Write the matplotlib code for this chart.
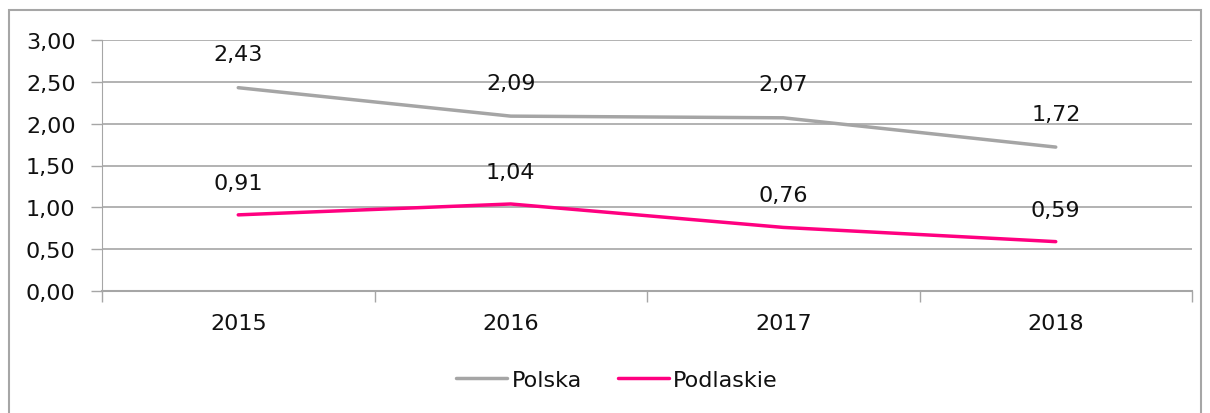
import matplotlib.pyplot as plt
from matplotlib.patches import Rectangle
from matplotlib.ticker import FuncFormatter, FixedLocator

years = ["2015", "2016", "2017", "2018"]
polska = [2.43, 2.09, 2.07, 1.72]
podlaskie = [0.91, 1.04, 0.76, 0.59]

plt.rcParams['font.family'] = ['DejaVu Sans']

fig = plt.figure(figsize=(12.1, 4.14), dpi=100)
ax = fig.add_axes([102/1210, 1-292/414, 1090/1210, 251/414])

# outer chart frame
fig.patches.append(Rectangle((9/1210, -0.05), 1192/1210, 1-11/414+0.05,
                             transform=fig.transFigure, fill=False,
                             edgecolor="#a6a6a6", linewidth=1.5))

x = list(range(len(years)))
ax.plot(x, polska, color="#a5a5a5", linewidth=2.5, label="Polska", solid_capstyle="round")
ax.plot(x, podlaskie, color="#ff0080", linewidth=2.5, label="Podlaskie", solid_capstyle="round")

fmt = lambda v: f"{v:.2f}".replace(".", ",")
for xi, v in zip(x, polska):
    ax.annotate(fmt(v), (xi, v), xytext=(0, 24), textcoords="offset points",
                ha="center", va="center", fontsize=16, color="#111111")
for xi, v in zip(x, podlaskie):
    ax.annotate(fmt(v), (xi, v), xytext=(0, 23), textcoords="offset points",
                ha="center", va="center", fontsize=16, color="#111111")

ax.set_xlim(-0.5, 3.5)
ax.set_ylim(0, 3)
ax.set_yticks([0, 0.5, 1, 1.5, 2, 2.5, 3])
ax.yaxis.set_major_formatter(FuncFormatter(lambda v, p: fmt(v)))
ax.set_xticks(x)
ax.set_xticklabels(years)
ax.xaxis.set_minor_locator(FixedLocator([-0.5, 0.5, 1.5, 2.5, 3.5]))
ax.tick_params(axis="x", which="major", length=0, pad=16, labelsize=16, labelcolor="#111111")
ax.tick_params(axis="x", which="minor", length=8, color="#a6a6a6", width=1)
ax.tick_params(axis="y", length=8, color="#a6a6a6", width=1, labelsize=16, pad=11,
               labelcolor="#111111")
ax.grid(axis="y", color="#a6a6a6", linewidth=1.2)
ax.set_axisbelow(True)
for s in ["top", "right"]:
    ax.spines[s].set_visible(False)
ax.spines["left"].set_color("#a6a6a6")
ax.spines["bottom"].set_color("#a6a6a6")
ax.spines["bottom"].set_linewidth(1.5)

leg = fig.legend(loc="center", bbox_to_anchor=(617/1210, 1-381/414), ncol=2,
                 frameon=False, fontsize=16, handlelength=2.3, handletextpad=0.2,
                 columnspacing=1.6)
for t in leg.get_texts():
    t.set_color("#111111")

fig.savefig("out.png", dpi=100)
